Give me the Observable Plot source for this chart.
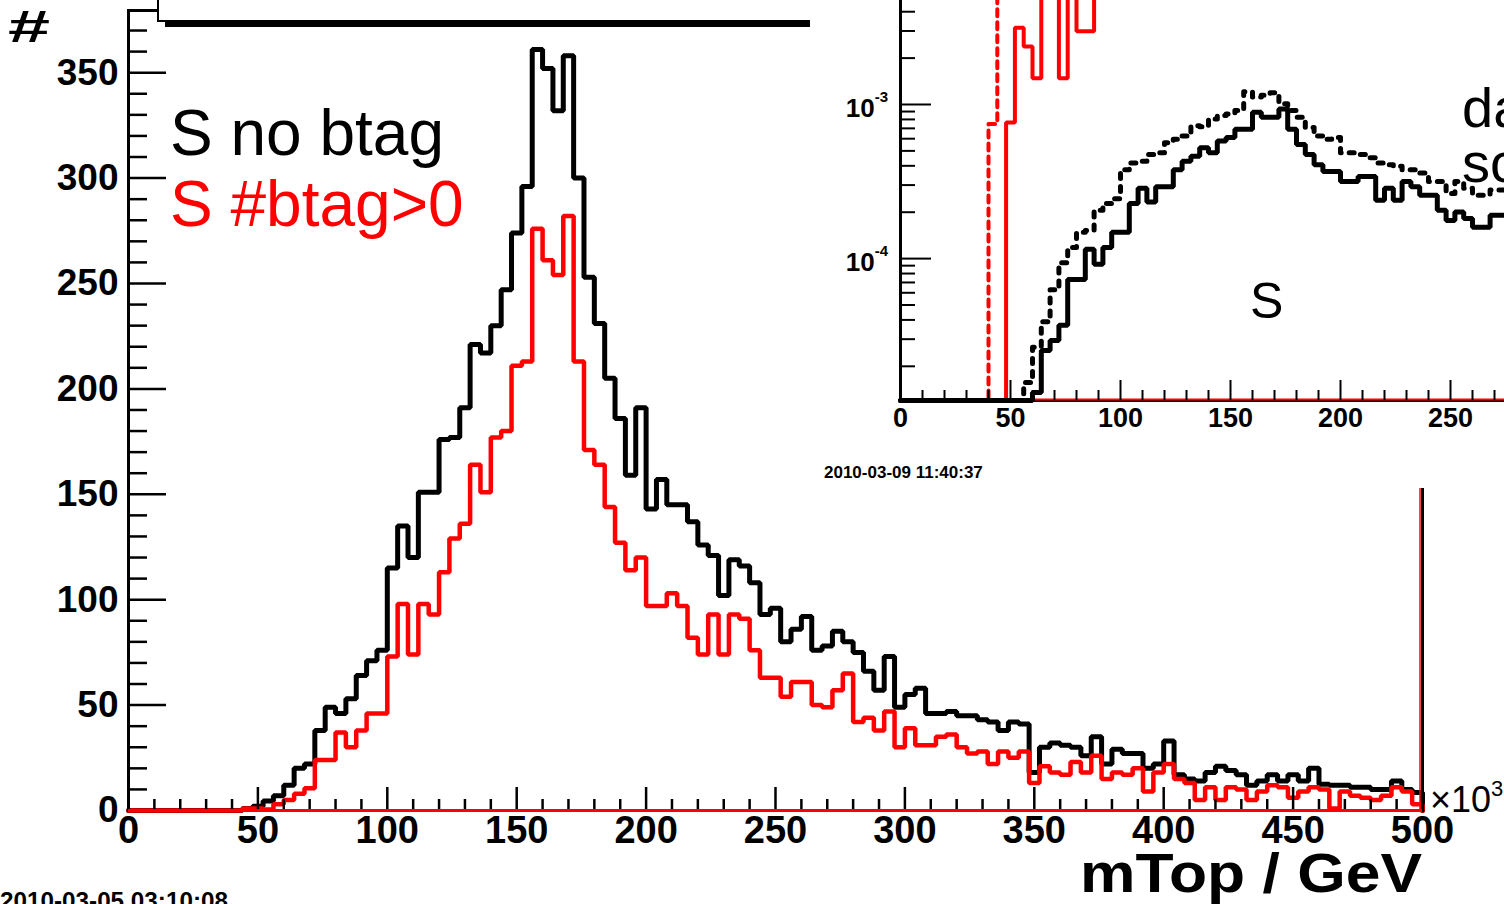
<!DOCTYPE html>
<html>
<head>
<meta charset="utf-8">
<script src="https://cdn.jsdelivr.net/npm/d3@7"></script>
<script src="https://cdn.jsdelivr.net/npm/@observablehq/plot@0.6"></script>
<style>
html, body { margin: 0; padding: 0; overflow: hidden; background: #fff; width: 1504px; height: 904px; }
#main { position: absolute; left: 0; top: 0; }
#legendbox { position: absolute; left: 157px; top: -12px; width: 760px; height: 30px; border: 2.5px solid #000; background: #fff; box-shadow: 8px 5px 0 0 #000; }
#inset { position: absolute; left: 810px; top: 0; width: 694px; height: 488px; overflow: hidden; background: #fff; }
svg { max-width: none !important; }
</style>
</head>
<body>
<div id="main"></div>
<div id="legendbox"></div>
<div id="inset"></div>
<script>
// ---------------- data ----------------
const massRange = [0, 500];   // GeV
const binWidth = 4;           // GeV per bin (125 bins)

// main histogram: S no btag (black)
const countsNoBtag = [
  0,0,0,0,0,0,0,0,0,0,0, 1, 2, 4.5, 7, 12, 20, 22, 38, 49,
  46, 53, 64, 71, 76, 115, 135, 120, 151, 151, 176, 177, 191, 221, 217, 230, 247, 274, 296, 361,
  352, 332, 358, 300, 253, 231, 205, 186, 159, 191, 143, 157, 145, 145, 137, 126, 121, 102, 119, 116,
  108, 93, 96, 80, 86, 92, 76, 78, 85, 80, 75, 66, 57, 73, 49, 55, 58, 46, 46, 47,
  45, 45, 43, 42, 38, 42, 41, 18, 30, 32, 31, 30, 26, 35, 22, 29, 27, 27, 20, 22,
  33, 17, 15, 14, 18, 21, 19, 17, 12, 14, 17, 14, 17, 14, 20, 12.5, 12, 12, 11, 11,
  10, 10, 14, 10, 8.5
];
// main histogram: S #btag>0 (red)
const countsBtag = [
  0,0,0,0,0,0,0,0,0,0,0, 1, 1, 0.5, 3, 5, 8, 10.5, 24, 24,
  37, 30, 38, 46, 46, 73, 98, 74, 98, 93, 113, 129, 136, 164, 151, 177, 180, 211, 213, 276,
  261, 254, 282, 213, 171, 164, 144, 127, 114, 120, 97, 97, 103, 97, 82, 74, 93, 74, 93, 91,
  76, 63, 63, 54, 61, 61, 50, 49, 57, 65, 42, 44, 38, 47, 30, 39, 31, 31, 35, 36,
  30, 27, 28, 22, 28, 25, 28, 13, 21, 18, 17, 23, 18, 26, 15, 18, 17, 20, 9, 18,
  22, 15, 13, 5, 11, 5, 11, 10, 5, 9, 12, 11, 6, 9, 11, 10, 1, 9, 7, 6,
  5, 7, 11, 9, 3
];

const xTicksMajor = [0, 50, 100, 150, 200, 250, 300, 350, 400, 450, 500];
const xTicksMinor = d3.range(10, 500, 10).filter(v => v % 50 !== 0);
const yTicksMajor = [0, 50, 100, 150, 200, 250, 300, 350];
const yTicksMinor = d3.range(10, 380, 10).filter(v => v % 50 !== 0);
const yDomainMain = [0, 379.5];

// inset (log scale), normalised histograms, visible part only
const insetNoBtagSolid = [
  0,0,0,0,0,0,0,0,0,0,0,0,0,0,0,
  1.35e-5, 2.53e-5, 2.94e-5, 3.70e-5, 7.31e-5, 7.31e-5, 1.15e-4, 9.18e-5, 1.18e-4, 1.48e-4,
  1.48e-4, 2.28e-4, 2.86e-4, 2.33e-4, 2.93e-4, 2.93e-4, 3.77e-4, 4.28e-4, 4.62e-4, 5.24e-4,
  4.86e-4, 5.80e-4, 6.10e-4, 6.92e-4, 6.92e-4, 8.91e-4, 8.26e-4, 8.26e-4, 9.36e-4, 6.92e-4,
  5.51e-4, 4.73e-4, 4.07e-4, 3.68e-4, 3.68e-4, 3.16e-4, 3.16e-4, 3.41e-4, 3.41e-4, 2.39e-4,
  2.86e-4, 2.39e-4, 3.16e-4, 2.93e-4, 2.58e-4, 2.58e-4, 2.06e-4, 1.77e-4, 2.01e-4, 1.82e-4,
  1.60e-4, 1.60e-4, 1.91e-4, 1.91e-4
];
const insetNoBtagDotted = [
  0,0,0,0,0,0,0,0,0,0,0,0,0,0,
  1.57e-5, 2.66e-5, 3.89e-5, 6.28e-5, 9.41e-5, 1.18e-4, 1.48e-4, 1.52e-4, 2.06e-4, 2.28e-4,
  2.45e-4, 3.77e-4, 4.18e-4, 4.28e-4, 4.73e-4, 4.86e-4, 5.65e-4, 5.94e-4, 6.25e-4, 7.27e-4,
  7.17e-4, 8.05e-4, 8.47e-4, 8.69e-4, 9.14e-4, 1.21e-3, 1.12e-3, 1.15e-3, 1.19e-3, 1.01e-3,
  9.14e-4, 8.26e-4, 7.10e-4, 6.25e-4, 5.94e-4, 6.10e-4, 4.86e-4, 4.86e-4, 4.73e-4, 4.51e-4,
  4.18e-4, 4.07e-4, 3.97e-4, 3.77e-4, 3.77e-4, 3.59e-4, 3.16e-4, 3.16e-4, 2.65e-4, 3.16e-4,
  2.86e-4, 2.58e-4, 2.58e-4, 2.79e-4, 2.79e-4
];
const insetRedSolid = [0,0,0,0,0,0,0,0,0,0,0,0, 7.65e-4, 3.15e-3, 2.38e-3, 1.48e-3, 8e-3, 8e-3, 1.48e-3, 8e-3, 2.99e-3, 2.99e-3, 8e-3, 8e-3];
const insetRedDotted = [0,0,0,0,0,0,0,0,0,0, 7.46e-4, 8e-3, 8e-3, 8e-3, 8e-3];
const insetYDomain = [1.2e-5, 4.73e-3];
const insetXTicksMajor = [0, 50, 100, 150, 200, 250, 300, 350, 400, 450, 500];
const insetXTicksMinor = d3.range(10, 500, 10).filter(v => v % 50 !== 0);
const insetYTicksMajor = [1e-4, 1e-3];
const insetYTickLabels = ["-4", "-3"];
const insetYTicksMinor = [2e-5,3e-5,4e-5,5e-5,6e-5,7e-5,8e-5,9e-5, 2e-4,3e-4,4e-4,5e-4,6e-4,7e-4,8e-4,9e-4, 2e-3,3e-3,4e-3];

// ---------------- helpers ----------------
const FONT = "'Liberation Sans', Arial, Helvetica, sans-serif";
function histSteps(vals, closeToZero) {
  const pts = vals.map((v, i) => ({x: massRange[0] + i * binWidth, y: v}));
  const xEnd = massRange[0] + vals.length * binWidth;
  pts.push({x: xEnd, y: vals[vals.length - 1]});
  if (closeToZero) pts.push({x: xEnd, y: 0});
  return pts;
}
function addText(svg, o) {
  const t = d3.select(svg).append("text")
    .attr("x", o.x).attr("y", o.y)
    .attr("font-family", FONT)
    .attr("font-size", o.size)
    .attr("font-weight", o.weight || "normal")
    .attr("fill", o.fill || "#000")
    .attr("text-anchor", o.anchor || "start");
  if (o.textLength) t.attr("textLength", o.textLength).attr("lengthAdjust", "spacingAndGlyphs");
  t.append("tspan").text(o.text);
  if (o.sup) t.append("tspan").attr("dy", o.supDy).attr("font-size", o.supSize).text(o.sup);
  return t;
}

// ---------------- main chart ----------------
const frameW = 1504 - 128 - 82, frameH = 904 - 10 - 94;
const main = Plot.plot({
  width: 1504, height: 904,
  marginLeft: 128, marginRight: 82, marginTop: 10, marginBottom: 94,
  x: {domain: massRange},
  y: {domain: yDomainMain},
  style: {fontFamily: FONT, background: "#fff", maxWidth: "none", color: "#000"},
  marks: [
    Plot.line(histSteps(countsNoBtag, true), {x: "x", y: "y", curve: "step-after", stroke: "#000", strokeWidth: 5, strokeLinejoin: "miter"}),
    Plot.line(histSteps(countsBtag, true), {x: "x", y: "y", curve: "step-after", stroke: "#ff0000", strokeWidth: 4.5, strokeLinejoin: "miter"}),
    Plot.ruleX(xTicksMajor, {stroke: "#000", strokeWidth: 2.5, insetTop: frameH - 23}),
    Plot.ruleX(xTicksMinor, {stroke: "#000", strokeWidth: 2.5, insetTop: frameH - 11}),
    Plot.ruleY(yTicksMajor, {stroke: "#000", strokeWidth: 2.5, insetRight: frameW - 38}),
    Plot.ruleY(yTicksMinor, {stroke: "#000", strokeWidth: 2.5, insetRight: frameW - 19}),
    Plot.ruleX([massRange[1]], {stroke: "#ff0000", strokeWidth: 1.5, dx: -2.5}),
    Plot.frame({stroke: "#000", strokeWidth: 3}),
    Plot.ruleY([0], {stroke: "#ff0000", strokeWidth: 3}),
    Plot.axisX(xTicksMajor, {tickSize: 0, tickPadding: 6, fontSize: 38, fontWeight: "bold", label: null}),
    Plot.axisY(yTicksMajor, {tickSize: 0, tickPadding: 10, fontSize: 37, fontWeight: "bold", label: null})
  ]
});
document.getElementById("main").appendChild(main);

addText(main, {x: 8, y: 42, text: "#", size: 44, weight: "bold", textLength: 42});
addText(main, {x: 170, y: 155, text: "S no btag", size: 64});
addText(main, {x: 170, y: 226, text: "S #btag>0", size: 64, fill: "#ff0000"});
addText(main, {x: 1080, y: 892, text: "mTop / GeV", size: 55, weight: "bold", textLength: 342});
addText(main, {x: 1430, y: 812, text: "\u00d710", size: 36, sup: "3", supDy: -16, supSize: 22});
addText(main, {x: 0, y: 909, text: "2010-03-05 03:10:08", size: 24, weight: "bold", textLength: 228});

// ---------------- inset chart ----------------
const insetFrameW = 1100, insetFrameH = 400;
const insetSteps = vals => histSteps(vals, false).map(d => ({x: d.x, y: Math.max(d.y, insetYDomain[0])}));
const inset = Plot.plot({
  width: 1200, height: 488,
  marginLeft: 90, marginRight: 10, marginTop: 0, marginBottom: 88,
  x: {domain: massRange},
  y: {type: "log", domain: insetYDomain, axis: null},
  style: {fontFamily: FONT, background: "#fff", maxWidth: "none", color: "#000"},
  marks: [
    Plot.ruleY([insetYDomain[0]], {stroke: "#000", strokeWidth: 3}),
    Plot.ruleY([insetYDomain[0]], {stroke: "#ff0000", strokeWidth: 2, dy: -1}),
    Plot.line(insetSteps(insetRedDotted), {x: "x", y: "y", curve: "step-after", stroke: "#ff0000", strokeWidth: 4, strokeDasharray: "7,6"}),
    Plot.line(insetSteps(insetRedSolid), {x: "x", y: "y", curve: "step-after", stroke: "#ff0000", strokeWidth: 4, strokeLinejoin: "miter"}),
    Plot.line(insetSteps(insetNoBtagDotted), {x: "x", y: "y", curve: "step-after", stroke: "#000", strokeWidth: 5, strokeDasharray: "5,8"}),
    Plot.line(insetSteps(insetNoBtagSolid), {x: "x", y: "y", curve: "step-after", stroke: "#000", strokeWidth: 5, strokeLinejoin: "miter"}),
    Plot.ruleX(insetXTicksMajor, {stroke: "#000", strokeWidth: 2, insetTop: insetFrameH - 20}),
    Plot.ruleX(insetXTicksMinor, {stroke: "#000", strokeWidth: 2, insetTop: insetFrameH - 10}),
    Plot.ruleY(insetYTicksMajor, {stroke: "#000", strokeWidth: 2, insetRight: insetFrameW - 31}),
    Plot.ruleY(insetYTicksMinor, {stroke: "#000", strokeWidth: 2, insetRight: insetFrameW - 15}),
    Plot.ruleX([massRange[0]], {stroke: "#000", strokeWidth: 3}),
    Plot.axisX(insetXTicksMajor, {tickSize: 0, tickPadding: 7, fontSize: 27, fontWeight: "bold", label: null})
  ]
});
document.getElementById("inset").appendChild(inset);

const ys = inset.scale("y");
const xs = inset.scale("x");
insetYTicksMajor.forEach((v, i) => {
  addText(inset, {x: xs.apply(massRange[0]) - 12, y: ys.apply(v) + 13, text: "10", size: 26, weight: "bold",
    anchor: "end", sup: insetYTickLabels[i], supDy: -15, supSize: 15});
});
addText(inset, {x: 440, y: 318, text: "S", size: 50});
addText(inset, {x: 652, y: 127, text: "da", size: 56});
addText(inset, {x: 652, y: 182, text: "sc", size: 56});
addText(inset, {x: 14, y: 478, text: "2010-03-09 11:40:37", size: 17, weight: "bold"});
</script>
</body>
</html>
